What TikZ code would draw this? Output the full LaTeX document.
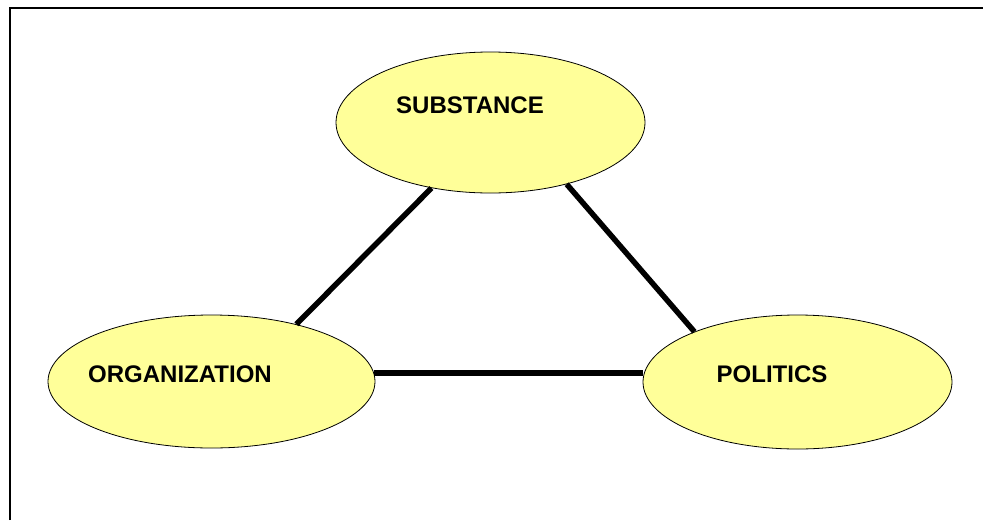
\documentclass[tikz,border=0pt]{standalone}
\usepackage{fontspec}
\setmainfont{Liberation Sans}
\usetikzlibrary{shapes.geometric}
\definecolor{paleyellow}{RGB}{255,255,153}

\begin{document}
\begin{tikzpicture}[x=1pt,y=-1pt,
  blob/.style={ellipse,draw=black,line width=0.8pt,fill=paleyellow,inner sep=0pt},
  tag/.style={inner sep=0pt,font=\fontsize{24}{28}\selectfont\bfseries},
  link/.style={black,line width=5.5pt}]
\useasboundingbox (0,0) rectangle (983,520);
\draw [black,line width=2pt] (10,520) -- (10,8) -- (983,8);
% the three ellipses
\node [blob,minimum width=309pt,minimum height=141pt] (substance) at (490.5,122.5) {};
\node [blob,minimum width=327pt,minimum height=133pt] (organization) at (211.5,381.5) {};
\node [blob,minimum width=309pt,minimum height=134pt] (politics) at (797.5,382) {};
\node [tag] (substance-tag) at ([shift={(-20.5,-17)}]substance.center) {SUBSTANCE};
\node [tag] (organization-tag) at ([shift={(-31.5,-7)}]organization.center) {ORGANIZATION};
\node [tag] (politics-tag) at ([shift={(-25.5,-8)}]politics.center) {POLITICS};
% links
\draw [link] (substance.228) -- (organization.34);
\draw [link] (substance.321) -- (politics.154);
\draw [link] (organization.3) -- (organization.3 -| politics.west);
\end{tikzpicture}
\end{document}
